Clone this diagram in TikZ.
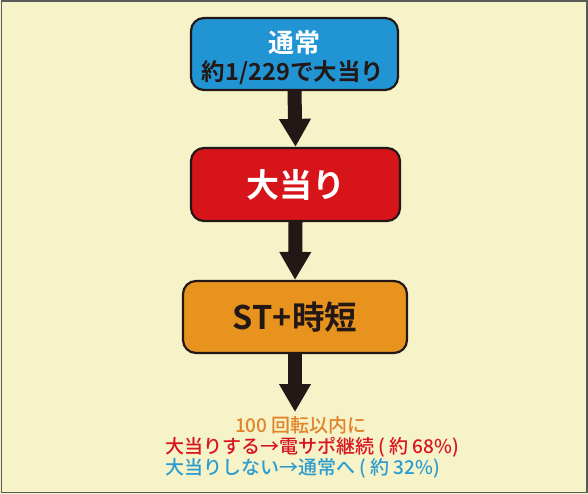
\documentclass[tikz,border=0pt]{standalone}
\usepackage{fontspec}
\setmainfont{Noto Sans CJK JP}[BoldFont={Noto Sans CJK JP Bold}]
\newfontfamily\medfont{Noto Sans CJK JP Medium}
\usetikzlibrary{arrows.meta}
\definecolor{bgc}{HTML}{F6F3C8}
\definecolor{inkc}{HTML}{231815}
\definecolor{bluec}{HTML}{2195D4}
\definecolor{redc}{HTML}{D7141A}
\definecolor{orangec}{HTML}{E8931E}
\definecolor{otxt}{HTML}{E2832A}
\definecolor{rtxt}{HTML}{D8141F}
\definecolor{btxt}{HTML}{2C9BD0}
\tikzset{
  box/.style={draw=inkc, line width=2.2pt, rounded corners=13pt, align=center, inner sep=0pt},
  flow/.style={draw=inkc, line width=14pt, -{Triangle[width=30pt,length=28pt]}},
  note/.style={font=\medfont\fontsize{19}{21}\selectfont, inner sep=0pt},
}
\begin{document}
\begin{tikzpicture}[x=1pt,y=-1pt]
\useasboundingbox (0,0) rectangle (588,494);
\fill[bgc] (0,0) rectangle (588,494);
\draw[color=black!65, line width=1.5pt] (1.5,1) rectangle (587,492.5);
\node[box, fill=bluec, minimum width=207pt, minimum height=72pt] (normal) at (294.5,54) {};
\node[text=white, font=\bfseries\fontsize{26}{30}\selectfont, inner sep=0pt] (normalt) at (294.5,43) {通常};
\node[text=inkc, font=\bfseries\fontsize{23.5}{27}\selectfont, inner sep=0pt] (normalp) at (293,73) {約1/229で大当り};
\node[box, fill=redc, minimum width=209pt, minimum height=73pt] (hit) at (295.5,184.5)
  {\fontsize{33}{37}\selectfont\bfseries\color{white}大当り};
\node[box, fill=orangec, minimum width=224pt, minimum height=72pt] (st) at (295,317)
  {\fontsize{32.5}{37}\selectfont\bfseries\color{inkc}ST+時短};
\node[note, text=otxt] (within) at (301,425) {100 回転以内に};
\node[note, text=rtxt, anchor=west] (yes) at (165,447) {大当りする→電サポ継続 ( 約 68\%)};
\node[note, text=btxt, anchor=west] (no) at (165,468) {大当りしない→通常へ ( 約 32\%)};
\coordinate (end3) at (295,412);
\draw[flow] (normal.south) -- (hit.north);
\draw[flow] (hit.south) -- (st.north);
\draw[flow] (st.south) -- (end3);
\end{tikzpicture}
\end{document}
